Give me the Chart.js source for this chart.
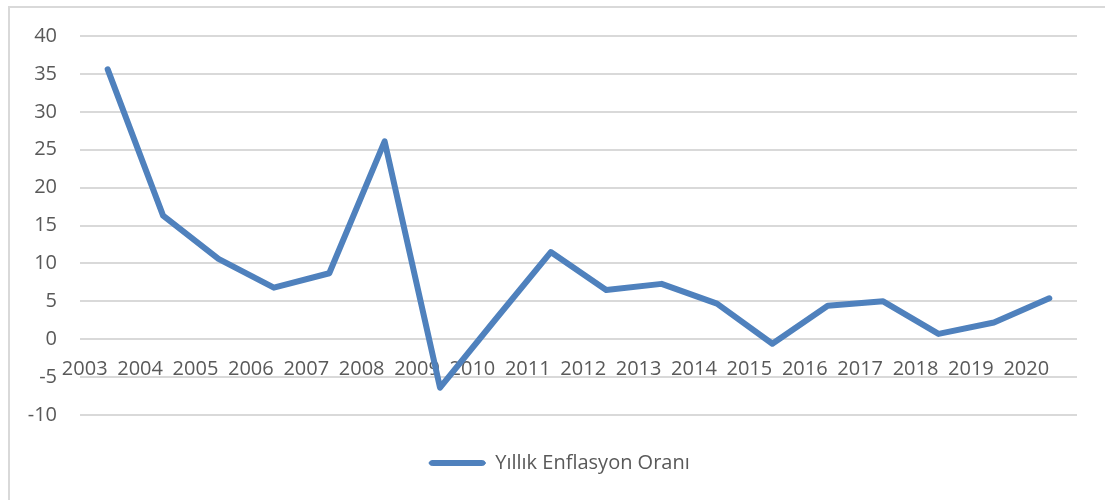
<!DOCTYPE html>
<html>
<head>
<meta charset="utf-8">
<script src="https://cdn.jsdelivr.net/npm/chart.js@4"></script>
<style>
  html, body { margin: 0; padding: 0; background: #ffffff; }
  #wrap { position: relative; width: 1105px; height: 500px; overflow: hidden; }
  #frame { position: absolute; left: 8px; top: 6px; width: 1200px; height: 600px;
           border-left: 2px solid #d9d9d9; border-top: 2px solid #d9d9d9; box-sizing: border-box; }
  canvas { position: absolute; left: 0; top: 0; }
</style>
</head>
<body>
<div id="wrap">
  <div id="frame"></div>
  <canvas id="c" width="1105" height="500"></canvas>
</div>
<script>
const years = ['2003','2004','2005','2006','2007','2008','2009','2010','2011','2012','2013','2014','2015','2016','2017','2018','2019','2020'];
const inflation = [35.6, 16.3, 10.6, 6.8, 8.7, 26.1, -6.4, 2.6, 11.5, 6.5, 7.3, 4.7, -0.6, 4.4, 5.0, 0.7, 2.2, 5.4];
const seriesName = 'Yıllık Enflasyon Oranı';
const yMin = -10, yMax = 40, yStep = 5;

const blue = '#4f81bd';
const textColor = '#595959';
const gridColor = '#d9d9d9';
const font = { family: "'Open Sans', 'Noto Sans', sans-serif", size: 20 };

// shifts the legend box horizontally (the reference legend sits right of centre)
const legendShift = {
  id: 'legendShift',
  afterLayout(chart) {
    const lg = chart.legend;
    if (!lg) return;
    const dx = 17;
    lg.left += dx; lg.right += dx;
    (lg.legendHitBoxes || []).forEach(h => { h.left += dx; });
  }
};

new Chart(document.getElementById('c'), {
  type: 'line',
  data: {
    labels: years,
    datasets: [{
      label: seriesName,
      data: inflation,
      borderColor: blue,
      backgroundColor: blue,
      borderWidth: 6,
      borderJoinStyle: 'round',
      borderCapStyle: 'round',
      pointRadius: 0,
      tension: 0,
      fill: false
    }]
  },
  plugins: [legendShift],
  options: {
    responsive: false,
    animation: false,
    layout: { padding: { left: 8, right: 28, top: 36, bottom: 17 } },
    plugins: {
      title: { display: false },
      tooltip: { enabled: false },
      legend: {
        position: 'bottom',
        labels: {
          color: textColor,
          font: font,
          boxWidth: 56,
          boxHeight: 5,
          padding: 38,
          useBorderRadius: true,
          borderRadius: 3,
          generateLabels: (chart) => {
            const items = Chart.defaults.plugins.legend.labels.generateLabels(chart);
            items.forEach(it => { it.lineWidth = 1; it.strokeStyle = blue; it.fillStyle = blue; });
            return items;
          }
        }
      }
    },
    scales: {
      x: {
        type: 'category',
        position: { y: 0 },
        offset: true,
        grid: { display: false, drawTicks: false },
        border: { display: false },
        ticks: {
          color: textColor,
          font: font,
          autoSkip: false,
          maxRotation: 0,
          minRotation: 0,
          labelOffset: -23,
          padding: 18
        }
      },
      y: {
        min: yMin,
        max: yMax,
        grid: { color: gridColor, lineWidth: 2, drawTicks: false },
        border: { display: false },
        ticks: {
          stepSize: yStep,
          color: textColor,
          font: font,
          padding: 23
        },
        afterFit: (scale) => { scale.width = 72; }
      }
    }
  }
});
</script>
</body>
</html>
